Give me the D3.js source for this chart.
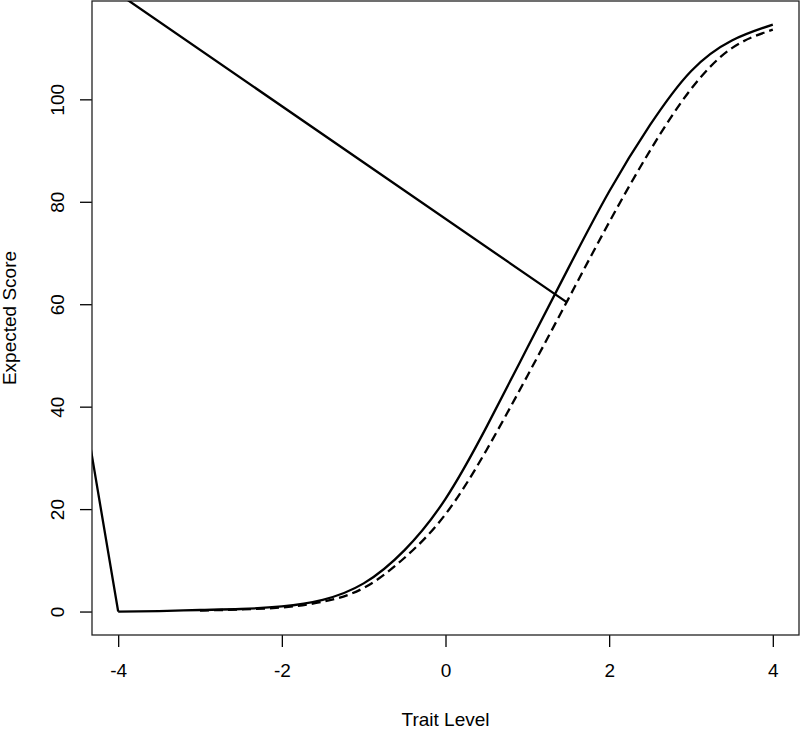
<!DOCTYPE html>
<html>
<head>
<meta charset="utf-8">
<script src="https://cdn.jsdelivr.net/npm/d3@7"></script>
<style>
    body { margin: 0; background: #fff; }
    text { font-family: "Liberation Sans", Arial, Helvetica, sans-serif; fill: #000; }
</style>
</head>
<body>
<div id="chartDiv"></div>
<script>
// data
let thetaSolid = [-4, -3.5, -3, -2.5, -2, -1.5, -1, -0.5, 0, 0.5, 1, 1.5, 2, 2.5, 3, 3.5, 4];
let scoreSolid = [0, 0.1, 0.3, 0.5, 1.0, 2.3, 5.5, 12, 22, 36, 51.5, 67, 82, 95, 105.5, 111.5, 114.6];

let thetaDashed = [-3, -2.5, -2, -1.5, -1, -0.5, 0, 0.5, 1, 1.5, 2, 2.5, 3, 3.5, 4];
let scoreDashed = [0.2, 0.4, 0.8, 1.9, 4.6, 10.5, 19, 31.5, 46, 61, 76, 90, 102, 110, 113.6];

// stray straight segments of the solid series (partly outside the plot box)
let strayTheta = [1.48, -5.44, -4];
let strayScore = [60.4, 136.5, 0];

let xTicks = [-4, -2, 0, 2, 4];
let yTicks = [0, 20, 40, 60, 80, 100];

// sizes
let width = 800, height = 730;
let margin = {top: 1, right: 1, bottom: 95, left: 92};
let plotW = width - margin.left - margin.right;
let plotH = height - margin.top - margin.bottom;

let svg = d3.select('#chartDiv')
    .append('svg')
    .attr('width', width)
    .attr('height', height);

// R style axes: 4% padding around the data range
let x = d3.scaleLinear().domain([-4.32, 4.32]).range([0, plotW]);
let y = d3.scaleLinear().domain([-4.58, 119.2]).range([plotH, 0]);

let g = svg.append('g')
    .attr('transform', `translate(${margin.left},${margin.top})`);

g.append('clipPath').attr('id', 'plotClip')
    .append('rect')
    .attr('width', plotW)
    .attr('height', plotH);

// axes (plain hyphen for negatives, like R)
let fmt = d => String(d);
let xAxis = g.append('g')
    .attr('transform', `translate(0,${plotH})`)
    .call(d3.axisBottom(x).tickValues(xTicks).tickSize(12).tickPadding(17).tickFormat(fmt));
let yAxis = g.append('g')
    .call(d3.axisLeft(y).tickValues(yTicks).tickSize(12).tickFormat(fmt));

[xAxis, yAxis].forEach(a => {
    a.select('.domain').remove();
    a.selectAll('line').attr('stroke', '#000').attr('stroke-width', 1.3);
    a.selectAll('text').style('font-size', '19px')
        .style('font-family', '"Liberation Sans", Arial, sans-serif');
});

// rotated y tick labels like R's default las=0
yAxis.selectAll('.tick text')
    .attr('x', null).attr('dy', null)
    .attr('text-anchor', 'middle')
    .attr('transform', 'translate(-28,0) rotate(-90)');

// plot box
g.append('rect')
    .attr('width', plotW)
    .attr('height', plotH)
    .attr('fill', 'none')
    .attr('stroke', '#222')
    .attr('stroke-width', 1.3);

// lines
let curveLine = d3.line()
    .x(d => x(d[0]))
    .y(d => y(d[1]))
    .curve(d3.curveNatural);
let straightLine = d3.line()
    .x(d => x(d[0]))
    .y(d => y(d[1]));

let lines = g.append('g').attr('clip-path', 'url(#plotClip)');

lines.append('path')
    .datum(thetaDashed.map((t, i) => [t, scoreDashed[i]]))
    .attr('d', curveLine)
    .attr('fill', 'none')
    .attr('stroke', '#000')
    .attr('stroke-width', 2.3)
    .attr('stroke-dasharray', '9,5');

lines.append('path')
    .datum(thetaSolid.map((t, i) => [t, scoreSolid[i]]))
    .attr('d', curveLine)
    .attr('fill', 'none')
    .attr('stroke', '#000')
    .attr('stroke-width', 2.3);

lines.append('path')
    .datum(strayTheta.map((t, i) => [t, strayScore[i]]))
    .attr('d', straightLine)
    .attr('fill', 'none')
    .attr('stroke', '#000')
    .attr('stroke-width', 2.3);

// axis titles
svg.append('text')
    .attr('x', margin.left + x(0))
    .attr('y', 726)
    .attr('text-anchor', 'middle')
    .style('font-size', '19px')
    .text('Trait Level');

svg.append('text')
    .attr('transform', `translate(16,${margin.top + plotH / 2}) rotate(-90)`)
    .attr('text-anchor', 'middle')
    .style('font-size', '19px')
    .text('Expected Score');
</script>
</body>
</html>
